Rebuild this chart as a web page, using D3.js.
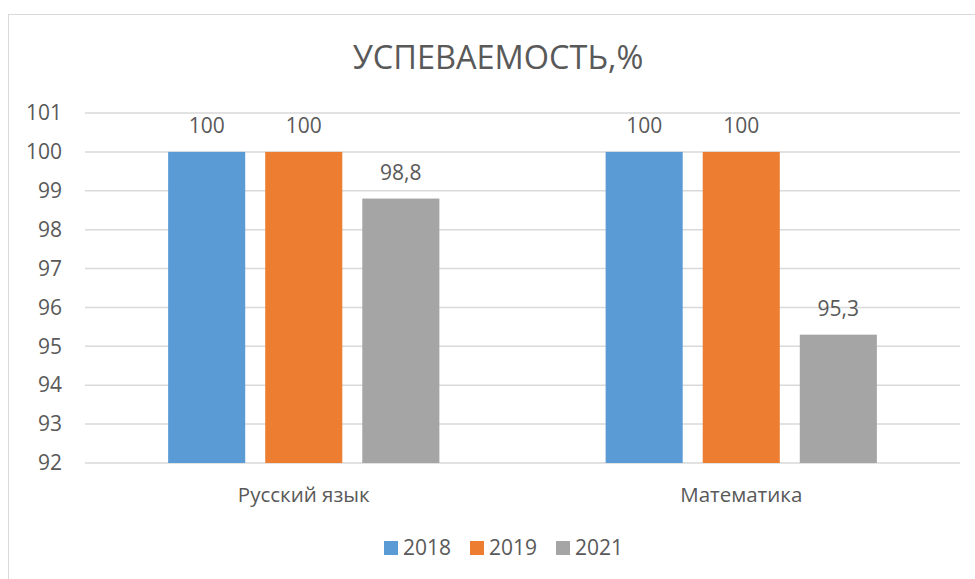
<!DOCTYPE html>
<html>
<head>
<meta charset="utf-8">
<script src="https://cdn.jsdelivr.net/npm/d3@7"></script>
<style>
  body { margin: 0; background: #fff; }
  text { font-family: "Open Sans", "Noto Sans", sans-serif; fill: #595959; }
</style>
</head>
<body>
<svg width="975" height="579"></svg>
<script>
var categories = ["Русский язык", "Математика"]
var years = ["2018", "2019", "2021"]
var values2018 = [100, 100]
var values2019 = [100, 100]
var values2021 = [98.8, 95.3]
var yTicks = [92, 93, 94, 95, 96, 97, 98, 99, 100, 101]
var colors = ["#5B9BD5", "#ED7D31", "#A5A5A5"]

var series = [values2018, values2019, values2021]
var rows = categories.map(function (c, i) {
  return { cat: c, vals: years.map(function (y, j) { return { year: y, v: series[j][i], k: j } }) }
})

var svg = d3.select("svg")
var margin = { left: 85, right: 15, top: 113, bottom: 116 }
var width = +svg.attr("width"), height = +svg.attr("height")

// chart frame
svg.append("rect")
  .attr("x", 8.5).attr("y", 14.5)
  .attr("width", 980).attr("height", 600)
  .attr("fill", "none").attr("stroke", "#d9d9d9").attr("stroke-width", 1)

var y = d3.scaleLinear().domain([92, 101]).range([height - margin.bottom, margin.top])
var x0 = d3.scaleBand().domain(categories)
  .range([margin.left, width - margin.right])
  .paddingInner(0.38).paddingOuter(0.19)
var x1 = d3.scaleBand().domain(years)
  .range([0, x0.bandwidth()])
  .paddingInner(0.206)

// gridlines
svg.append("g").selectAll("line")
  .data(yTicks).enter().append("line")
  .attr("x1", margin.left).attr("x2", width - margin.right)
  .attr("y1", function (d) { return y(d) }).attr("y2", function (d) { return y(d) })
  .attr("stroke", "#d9d9d9").attr("stroke-width", 1.5)

// y axis labels
var yAxis = svg.append("g")
  .attr("transform", "translate(" + (margin.left - 23) + ",0)")
  .call(d3.axisLeft(y).tickValues(yTicks).tickSize(0).tickPadding(0))
yAxis.select(".domain").remove()
yAxis.selectAll("text")
  .attr("font-size", 21).attr("font-family", null).attr("fill", "#595959")

var group = svg.append("g").selectAll("g")
  .data(rows).enter().append("g")
  .attr("transform", function (d) { return "translate(" + x0(d.cat) + ",0)" })

group.selectAll("rect")
  .data(function (d) { return d.vals }).enter().append("rect")
  .attr("x", function (d) { return x1(d.year) })
  .attr("width", x1.bandwidth())
  .attr("y", function (d) { return y(d.v) })
  .attr("height", function (d) { return y(92) - y(d.v) })
  .attr("fill", function (d) { return colors[d.k] })

group.selectAll(".lbl")
  .data(function (d) { return d.vals }).enter().append("text")
  .attr("class", "lbl")
  .attr("x", function (d) { return x1(d.year) + x1.bandwidth() / 2 })
  .attr("y", function (d) { return y(d.v) - 19 })
  .attr("text-anchor", "middle")
  .attr("font-size", 21)
  .text(function (d) { return String(d.v).replace(".", ",") })

// x axis labels
var xAxis = svg.append("g")
  .attr("transform", "translate(0," + (y(92) + 39) + ")")
  .call(d3.axisBottom(x0).tickSize(0).tickPadding(0))
xAxis.select(".domain").remove()
xAxis.selectAll("text")
  .attr("dy", 0).attr("font-size", 20.5).attr("font-family", null).attr("fill", "#595959")

// title
svg.append("text")
  .attr("x", 498).attr("y", 69)
  .attr("text-anchor", "middle")
  .attr("font-size", 32.5)
  .text("УСПЕВАЕМОСТЬ,%")

// legend
var legendX = [384, 470, 556]
var legend = svg.append("g").selectAll("g")
  .data(years).enter().append("g")
  .attr("transform", function (d, i) { return "translate(" + legendX[i] + ",541)" })
legend.append("rect")
  .attr("width", 14).attr("height", 14)
  .attr("fill", function (d, i) { return colors[i] })
legend.append("text")
  .attr("x", 19).attr("y", 14)
  .attr("font-size", 21)
  .text(function (d) { return d })
</script>
</body>
</html>
